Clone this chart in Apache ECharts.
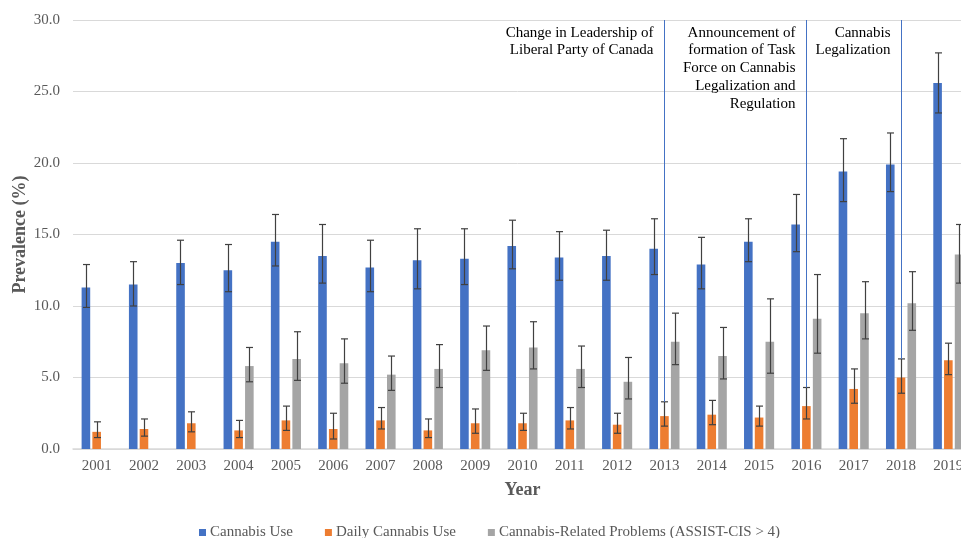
<!DOCTYPE html>
<html>
<head>
<meta charset="utf-8">
<style>
  html, body { margin: 0; padding: 0; background: #ffffff; }
  #chart { width: 961px; height: 538px; }
</style>
<script src="https://cdn.jsdelivr.net/npm/echarts@6/dist/echarts.min.js"></script>
</head>
<body>
<div id="chart"></div>
<script>
// Survey years
const years = ['2001','2002','2003','2004','2005','2006','2007','2008','2009','2010',
               '2011','2012','2013','2014','2015','2016','2017','2018','2019'];

// Past-year cannabis use (%), with 95% confidence bounds
const cannabisUse     = [11.3, 11.5, 13.0, 12.5, 14.5, 13.5, 12.7, 13.2, 13.3, 14.2, 13.4, 13.5, 14.0, 12.9, 14.5, 15.7, 19.4, 19.9, 25.6];
const cannabisUseLow  = [ 9.9, 10.0, 11.5, 11.0, 12.8, 11.6, 11.0, 11.2, 11.5, 12.6, 11.8, 11.8, 12.2, 11.2, 13.1, 13.8, 17.3, 18.0, 23.5];
const cannabisUseHigh = [12.9, 13.1, 14.6, 14.3, 16.4, 15.7, 14.6, 15.4, 15.4, 16.0, 15.2, 15.3, 16.1, 14.8, 16.1, 17.8, 21.7, 22.1, 27.7];

// Daily cannabis use (%)
const dailyUse     = [1.2, 1.4, 1.8, 1.3, 2.0, 1.4, 2.0, 1.3, 1.8, 1.8, 2.0, 1.7, 2.3, 2.4, 2.2, 3.0, 4.2, 5.0, 6.2];
const dailyUseLow  = [0.8, 0.9, 1.2, 0.8, 1.3, 0.7, 1.4, 0.8, 1.1, 1.3, 1.4, 1.1, 1.6, 1.7, 1.6, 2.1, 3.2, 3.9, 5.2];
const dailyUseHigh = [1.9, 2.1, 2.6, 2.0, 3.0, 2.5, 2.9, 2.1, 2.8, 2.5, 2.9, 2.5, 3.3, 3.4, 3.0, 4.3, 5.6, 6.3, 7.4];

// Cannabis-related problems (ASSIST-CIS > 4), not measured before 2004
const problems     = [null, null, null, 5.8, 6.3, 6.0, 5.2, 5.6, 6.9, 7.1, 5.6, 4.7, 7.5, 6.5, 7.5, 9.1, 9.5, 10.2, 13.6];
const problemsLow  = [null, null, null, 4.7, 4.8, 4.6, 4.1, 4.3, 5.5, 5.6, 4.3, 3.5, 5.9, 4.9, 5.3, 6.7, 7.7, 8.3, 11.6];
const problemsHigh = [null, null, null, 7.1, 8.2, 7.7, 6.5, 7.3, 8.6, 8.9, 7.2, 6.4, 9.5, 8.5, 10.5, 12.2, 11.7, 12.4, 15.7];

// Policy events marked on the chart
const eventYears  = ['2013', '2016', '2018'];
const eventLabels = [
  ['Change in Leadership of', 'Liberal Party of Canada'],
  ['Announcement of', 'formation of Task', 'Force on Cannabis', 'Legalization and', 'Regulation'],
  ['Cannabis', 'Legalization']
];

const yTicks = { min: 0, max: 30, interval: 5 };

const seriesNames = ['Cannabis Use', 'Daily Cannabis Use', 'Cannabis-Related Problems (ASSIST-CIS > 4)'];
const colors = ['#4472C4', '#ED7D31', '#A5A5A5'];

const FONT = "'Liberation Serif', 'Times New Roman', serif";
const BAR_W = 8.6;
const BAR_STEP = 10.8;

function errorData(low, high) {
  const out = [];
  for (let i = 0; i < years.length; i++) {
    if (low[i] == null || high[i] == null) continue;
    out.push([i, low[i], high[i]]);
  }
  return out;
}

function errorSeries(k, low, high) {
  return {
    type: 'custom',
    name: seriesNames[k] + ' CI',
    z: 5,
    silent: true,
    data: errorData(low, high),
    encode: { x: 0, y: [1, 2] },
    renderItem: function (params, api) {
      const lo = api.coord([api.value(0), api.value(1)]);
      const hi = api.coord([api.value(0), api.value(2)]);
      const cx = Math.round(lo[0] + (k - 1) * BAR_STEP) + 0.5;
      const cap = 3.5;
      const st = { stroke: '#404040', lineWidth: 1.2 };
      return {
        type: 'group',
        children: [
          { type: 'line', shape: { x1: cx, y1: lo[1], x2: cx, y2: hi[1] }, style: st },
          { type: 'line', shape: { x1: cx - cap, y1: hi[1], x2: cx + cap, y2: hi[1] }, style: st },
          { type: 'line', shape: { x1: cx - cap, y1: lo[1], x2: cx + cap, y2: lo[1] }, style: st }
        ]
      };
    }
  };
}

const eventData = eventYears.map(function (y) {
  const i = years.indexOf(y);
  return [i, yTicks.max, dailyUseHigh[i]];
});

const chart = echarts.init(document.getElementById('chart'), null, { renderer: 'canvas' });

chart.setOption({
  animation: false,
  backgroundColor: '#ffffff',
  textStyle: { fontFamily: FONT },
  grid: { left: 73, right: -11, top: 20, bottom: 89, containLabel: false, outerBoundsMode: 'none' },
  legend: {
    left: 199,
    top: 525,
    padding: 0,
    itemWidth: 7,
    itemHeight: 7,
    itemGap: 32,
    icon: 'rect',
    data: seriesNames,
    textStyle: { fontFamily: FONT, fontSize: 15, color: '#595959', padding: [0, 0, 0, -1] }
  },
  xAxis: {
    type: 'category',
    data: years,
    name: 'Year',
    nameLocation: 'middle',
    nameGap: 32,
    nameMoveOverlap: false,
    nameTextStyle: { fontFamily: FONT, fontSize: 18, fontWeight: 'bold', color: '#595959' },
    axisLine: { lineStyle: { color: '#d9d9d9', width: 1.5 } },
    axisTick: { show: false },
    axisLabel: { fontFamily: FONT, fontSize: 15, color: '#595959', margin: 10, interval: 0 }
  },
  yAxis: {
    type: 'value',
    min: yTicks.min,
    max: yTicks.max,
    interval: yTicks.interval,
    name: 'Prevalence (%)',
    nameLocation: 'middle',
    nameGap: 44,
    nameRotate: 90,
    nameMoveOverlap: false,
    nameTextStyle: { fontFamily: FONT, fontSize: 18, fontWeight: 'bold', color: '#595959' },
    axisLine: { show: false },
    axisTick: { show: false },
    axisLabel: {
      fontFamily: FONT, fontSize: 15, color: '#595959', margin: 13,
      formatter: function (v) { return v.toFixed(1); }
    },
    splitLine: { lineStyle: { color: '#d9d9d9', width: 1 } }
  },
  series: [
    { type: 'bar', name: seriesNames[0], data: cannabisUse, barWidth: BAR_W, barGap: '25%',
      itemStyle: { color: colors[0] } },
    { type: 'bar', name: seriesNames[1], data: dailyUse, barWidth: BAR_W, barGap: '25%',
      itemStyle: { color: colors[1] } },
    { type: 'bar', name: seriesNames[2], data: problems, barWidth: BAR_W, barGap: '25%',
      itemStyle: { color: colors[2] } },
    errorSeries(0, cannabisUseLow, cannabisUseHigh),
    errorSeries(1, dailyUseLow, dailyUseHigh),
    errorSeries(2, problemsLow, problemsHigh),
    {
      type: 'custom',
      name: 'events',
      z: 6,
      silent: true,
      data: eventData,
      encode: { x: 0, y: [1, 2] },
      renderItem: function (params, api) {
        const top = api.coord([api.value(0), api.value(1)]);
        const bot = api.coord([api.value(0), api.value(2)]);
        const x = Math.round(top[0]) + 0.5;
        return {
          type: 'group',
          children: [
            { type: 'line', shape: { x1: x, y1: top[1], x2: x, y2: bot[1] },
              style: { stroke: '#4472C4', lineWidth: 1 } },
            { type: 'text',
              style: {
                x: x - 11, y: top[1] + 4,
                text: eventLabels[params.dataIndex].join('\n'),
                align: 'right', verticalAlign: 'top',
                fontFamily: FONT, fontSize: 15, lineHeight: 17.7,
                fill: '#000000'
              } }
          ]
        };
      }
    }
  ]
});
</script>
</body>
</html>
